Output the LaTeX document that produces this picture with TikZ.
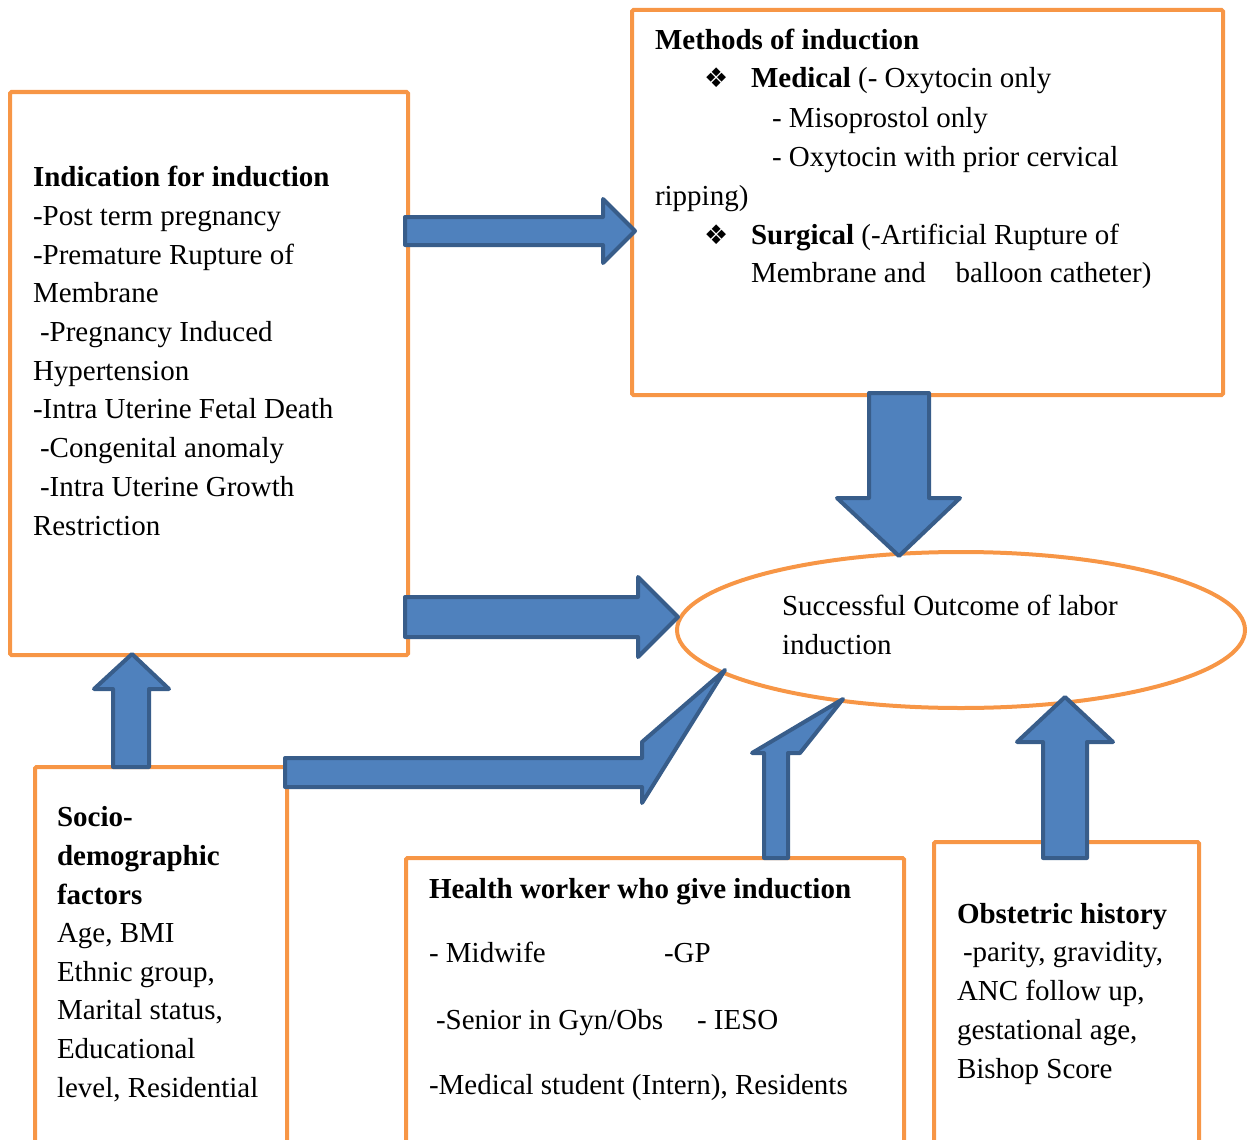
\documentclass[tikz,border=0pt]{standalone}
\usepackage{fontspec}
\setmainfont{Liberation Serif}
\newfontfamily\symf{DejaVu Sans}
\usetikzlibrary{shapes.geometric}
\definecolor{boxorange}{HTML}{F79646}
\definecolor{arrfill}{HTML}{4F81BD}
\definecolor{arredge}{HTML}{385D8A}
\begin{document}
\begin{tikzpicture}[x=1pt,y=-1pt,
  obox/.style={draw=boxorange, line width=4pt, rounded corners=1.5pt, inner sep=0pt, outer sep=0pt, rectangle},
  blk/.style={fill=arrfill, draw=arredge, line width=4pt, line join=round},
  tx/.style={anchor=base west, inner sep=0pt, outer sep=0pt, font=\fontsize{29}{39}\selectfont},
  bul/.style={anchor=base west, inner sep=0pt, font=\symf\fontsize{27}{27}\selectfont}]
\useasboundingbox (0,0) rectangle (1248,1140);
\clip (0,0) rectangle (1248,1140);
% boxes
\node[obox, minimum width=398pt, minimum height=563pt] (ind) at (209,373.5) {};
\node[obox, minimum width=591pt, minimum height=385pt] (meth) at (927.5,202.5) {};
\node[obox, minimum width=252pt, minimum height=393pt] (soc) at (161,963.5) {};
\node[obox, minimum width=498pt, minimum height=302pt] (hw) at (655,1009) {};
\node[obox, minimum width=265pt, minimum height=318pt] (obs) at (1066.5,1001) {};
\node[draw=boxorange, line width=4pt, ellipse, minimum width=568pt, minimum height=156pt, inner sep=0pt] (out) at (961,630) {};
% block arrows
\draw[blk] (405,217) -- (603,217) -- (603,199) -- (635,231) -- (603,263) -- (603,245) -- (405,245) -- cycle;
\draw[blk] (869,393) -- (929,393) -- (929,498) -- (960,498) -- (899,556) -- (837,498) -- (869,498) -- cycle;
\draw[blk] (405,597) -- (638,597) -- (638,577) -- (678,617) -- (638,657) -- (638,637) -- (405,637) -- cycle;
\draw[blk] (113,767) -- (113,689) -- (94,689) -- (132,654) -- (169,689) -- (149,689) -- (149,767) -- cycle;
\draw[blk] (285,758) -- (642,758) -- (642,742) -- (725,670) -- (642,803) -- (642,787) -- (285,787) -- cycle;
\draw[blk] (764,858) -- (764,753) -- (752,753) -- (843,699) -- (800,753) -- (788,753) -- (788,858) -- cycle;
\draw[blk] (1043,858) -- (1043,742) -- (1017,742) -- (1065,697) -- (1113,742) -- (1087,742) -- (1087,858) -- cycle;
% Indication text
\node[tx] (i1) at (33,186) {\textbf{Indication for induction}};
\node[tx] (i2) at (33,225) {-Post term pregnancy};
\node[tx] (i3) at (33,264) {-Premature Rupture of};
\node[tx] (i4) at (33,302) {Membrane};
\node[tx] (i5) at (40,341) {-Pregnancy Induced};
\node[tx] (i6) at (33,380) {Hypertension};
\node[tx] (i7) at (33,418) {-Intra Uterine Fetal Death};
\node[tx] (i8) at (40,457) {-Congenital anomaly};
\node[tx] (i9) at (40,496) {-Intra Uterine Growth};
\node[tx] (i10) at (33,535) {Restriction};
% Methods text
\node[tx] (m1) at (655,50) {\textbf{Methods of induction}};
\node[bul] (mb1) at (704,88) {❖};
\node[tx] (m2) at (751,88) {\textbf{Medical} (- Oxytocin only};
\node[tx] (m3) at (772,127) {- Misoprostol only};
\node[tx] (m4) at (772,166) {- Oxytocin with prior cervical};
\node[tx] (m5) at (655,205) {ripping)};
\node[bul] (mb2) at (704,244) {❖};
\node[tx] (m6) at (751,244) {\textbf{Surgical} (-Artificial Rupture of};
\node[tx] (m7) at (751,282) {Membrane and\hspace{30pt}balloon catheter)};
% outcome text
\node[tx] (o1) at (782,615) {Successful Outcome of labor};
\node[tx] (o2) at (782,654) {induction};
% socio text
\node[tx] (s1) at (57,826) {\textbf{Socio-}};
\node[tx] (s2) at (57,865) {\textbf{demographic}};
\node[tx] (s3) at (57,904) {\textbf{factors}};
\node[tx] (s4) at (57,942) {Age, BMI};
\node[tx] (s5) at (57,981) {Ethnic group,};
\node[tx] (s6) at (57,1019) {Marital status,};
\node[tx] (s7) at (57,1058) {Educational};
\node[tx] (s8) at (57,1097) {level, Residential};
% health worker text
\node[tx] (h1) at (429,898) {\textbf{Health worker who give induction}};
\node[tx] (h2) at (429,962) {- Midwife};
\node[tx] (h3) at (664,962) {-GP};
\node[tx] (h4) at (436,1029) {-Senior in Gyn/Obs};
\node[tx] (h5) at (697,1029) {- IESO};
\node[tx] (h6) at (429,1094) {-Medical student (Intern), Residents};
% obstetric text
\node[tx] (b1) at (957,923) {\textbf{Obstetric history}};
\node[tx] (b2) at (963,961) {-parity, gravidity,};
\node[tx] (b3) at (957,1000) {ANC follow up,};
\node[tx] (b4) at (957,1039) {gestational age,};
\node[tx] (b5) at (957,1078) {Bishop Score};
\end{tikzpicture}
\end{document}
